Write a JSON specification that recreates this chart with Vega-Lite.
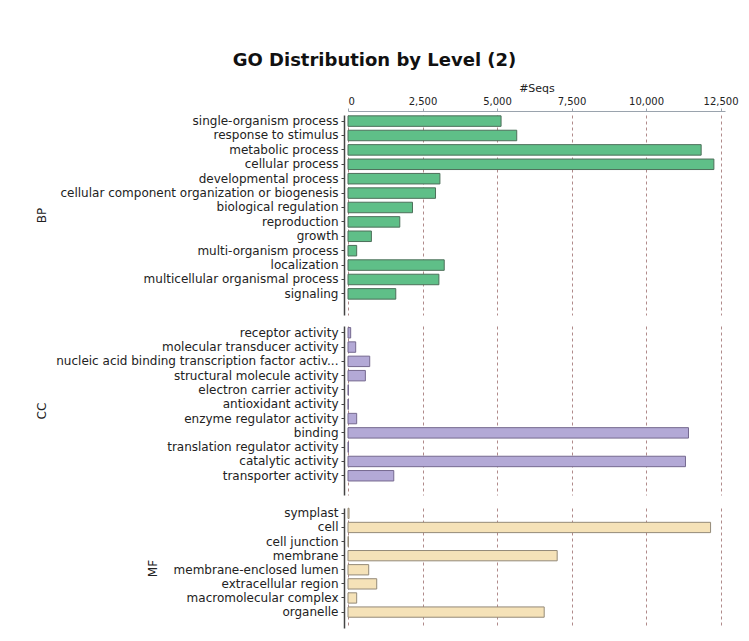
{
  "$schema": "https://vega.github.io/schema/vega-lite/v6.json",
  "padding": {"left": 35, "top": 52, "right": 20, "bottom": 8},
  "background": "white",
  "config": {
    "font": "DejaVu Sans",
    "view": {"stroke": null},
    "concat": {"spacing": 11},
    "axisY": {"orient": "left", "offset": 4, "domainColor": "#444444", "domainWidth": 1.5, "tickColor": "#444444", "tickSize": 3, "labelFontSize": 12, "labelColor": "#222222", "labelPadding": 3, "labelLimit": 400, "titleFontSize": 12, "titleFontWeight": "normal", "titleColor": "#222222", "titlePadding": 10, "grid": false},
    "axisX": {"grid": true, "gridDash": [3, 3], "gridColor": "#b08a8a", "gridWidth": 1}
  },
  "title": {"text": "GO Distribution by Level (2)", "fontSize": 18, "fontWeight": "bold", "font": "DejaVu Sans", "color": "#111111", "anchor": "middle", "offset": 12, "dx": -12},
  "data": {"values": [
    {"cat": "BP", "term": "single-organism process", "seqs": 5136},
    {"cat": "BP", "term": "response to stimulus", "seqs": 5662},
    {"cat": "BP", "term": "metabolic process", "seqs": 11850},
    {"cat": "BP", "term": "cellular process", "seqs": 12277},
    {"cat": "BP", "term": "developmental process", "seqs": 3084},
    {"cat": "BP", "term": "cellular component organization or biogenesis", "seqs": 2937},
    {"cat": "BP", "term": "biological regulation", "seqs": 2164},
    {"cat": "BP", "term": "reproduction", "seqs": 1738},
    {"cat": "BP", "term": "growth", "seqs": 785},
    {"cat": "BP", "term": "multi-organism process", "seqs": 291},
    {"cat": "BP", "term": "localization", "seqs": 3229},
    {"cat": "BP", "term": "multicellular organismal process", "seqs": 3050},
    {"cat": "BP", "term": "signaling", "seqs": 1603},
    {"cat": "CC", "term": "receptor activity", "seqs": 90},
    {"cat": "CC", "term": "molecular transducer activity", "seqs": 258},
    {"cat": "CC", "term": "nucleic acid binding transcription factor activ...", "seqs": 729},
    {"cat": "CC", "term": "structural molecule activity", "seqs": 583},
    {"cat": "CC", "term": "electron carrier activity", "seqs": 15},
    {"cat": "CC", "term": "antioxidant activity", "seqs": 10},
    {"cat": "CC", "term": "enzyme regulator activity", "seqs": 291},
    {"cat": "CC", "term": "binding", "seqs": 11425},
    {"cat": "CC", "term": "translation regulator activity", "seqs": 15},
    {"cat": "CC", "term": "catalytic activity", "seqs": 11324},
    {"cat": "CC", "term": "transporter activity", "seqs": 1536},
    {"cat": "MF", "term": "symplast", "seqs": 35},
    {"cat": "MF", "term": "cell", "seqs": 12166},
    {"cat": "MF", "term": "cell junction", "seqs": 15},
    {"cat": "MF", "term": "membrane", "seqs": 7019},
    {"cat": "MF", "term": "membrane-enclosed lumen", "seqs": 695},
    {"cat": "MF", "term": "extracellular region", "seqs": 964},
    {"cat": "MF", "term": "macromolecular complex", "seqs": 291},
    {"cat": "MF", "term": "organelle", "seqs": 6583}
  ]},
  "vconcat": [
    {
      "width": 377,
      "height": 200,
      "transform": [{"filter": "datum.cat === 'BP'"}],
      "mark": {"type": "bar", "fill": "#5fbf88", "stroke": "#4d6f5a", "strokeWidth": 1},
      "encoding": {
        "y": {"field": "term", "type": "nominal", "sort": null, "title": "BP", "axis": {"titleX": -296}, "scale": {"paddingInner": 0.27, "paddingOuter": 0.58, "align": 0.05}},
        "x": {"field": "seqs", "type": "quantitative", "scale": {"domain": [0, 12650]},
          "axis": {"orient": "top", "title": "#Seqs", "titleFontSize": 11, "titleFontWeight": "normal", "titleColor": "#222222", "titlePadding": 3, "offset": 4, "values": [0, 2500, 5000, 7500, 10000, 12500], "format": ",d", "labelFontSize": 10, "labelColor": "#222222", "labelPadding": 2, "tickSize": 3, "tickColor": "#9aa3ad", "domainColor": "#9aa3ad"}}
      }
    },
    {
      "width": 377,
      "height": 169,
      "transform": [{"filter": "datum.cat === 'CC'"}],
      "mark": {"type": "bar", "fill": "#b3a9d6", "stroke": "#75698f", "strokeWidth": 1},
      "encoding": {
        "y": {"field": "term", "type": "nominal", "sort": null, "title": "CC", "axis": {"titleX": -296}, "scale": {"paddingInner": 0.27, "paddingOuter": 0.545, "align": 0.1}},
        "x": {"field": "seqs", "type": "quantitative", "scale": {"domain": [0, 12650]},
          "axis": {"orient": "top", "title": null, "labels": false, "ticks": false, "domain": false, "values": [0, 2500, 5000, 7500, 10000, 12500]}}
      }
    },
    {
      "width": 377,
      "height": 120,
      "transform": [{"filter": "datum.cat === 'MF'"}],
      "mark": {"type": "bar", "fill": "#f5e2b8", "stroke": "#948a78", "strokeWidth": 1},
      "encoding": {
        "y": {"field": "term", "type": "nominal", "sort": null, "title": "MF", "axis": {"titleX": -185}, "scale": {"paddingInner": 0.27, "paddingOuter": 0.39, "align": 0.02}},
        "x": {"field": "seqs", "type": "quantitative", "scale": {"domain": [0, 12650]},
          "axis": {"orient": "top", "title": null, "labels": false, "ticks": false, "domain": false, "values": [0, 2500, 5000, 7500, 10000, 12500]}}
      }
    }
  ]
}
